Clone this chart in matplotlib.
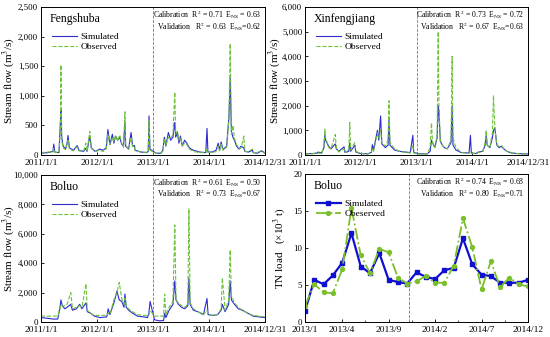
import matplotlib
matplotlib.use('Agg')
import matplotlib.pyplot as plt
import matplotlib.ticker as mticker
import pandas as pd

plt.rcParams['font.family'] = ['Liberation Serif', 'DejaVu Serif']
plt.rcParams['mathtext.fontset'] = 'stix'

# ---- Fengshuba daily flow (key dates, simulated, observed) ----
fsb_dates = ['2011-01-01', '2011-02-15', '2011-03-20', '2011-03-25', '2011-04-01', '2011-04-28',
             '2011-05-07', '2011-05-11', '2011-05-16', '2011-05-25', '2011-06-10', '2011-06-20',
             '2011-06-26', '2011-07-05', '2011-08-01', '2011-08-25', '2011-09-05', '2011-10-05',
             '2011-10-20', '2011-10-28', '2011-11-15', '2011-11-25', '2011-12-20', '2012-01-20',
             '2012-02-10', '2012-03-01', '2012-03-12', '2012-03-25', '2012-04-10', '2012-04-20',
             '2012-05-01', '2012-05-15', '2012-05-28', '2012-06-10', '2012-06-22', '2012-07-01',
             '2012-07-06', '2012-07-25', '2012-08-10', '2012-08-20', '2012-09-01', '2012-09-05',
             '2012-10-15', '2012-11-20', '2012-11-30', '2012-12-05', '2012-12-11', '2013-01-20',
             '2013-02-20', '2013-03-05', '2013-03-15', '2013-03-25', '2013-04-10', '2013-04-25',
             '2013-05-10', '2013-05-22', '2013-05-28', '2013-06-08', '2013-06-18', '2013-06-28',
             '2013-07-10', '2013-07-25', '2013-08-08', '2013-08-25', '2013-09-20', '2013-11-01',
             '2013-12-10', '2013-12-18', '2013-12-24', '2014-01-20', '2014-02-15', '2014-03-01',
             '2014-03-10', '2014-03-20', '2014-04-01', '2014-04-25', '2014-05-10', '2014-05-18',
             '2014-05-26', '2014-06-05', '2014-06-15', '2014-06-28', '2014-07-15', '2014-07-28',
             '2014-08-15', '2014-08-22', '2014-09-15', '2014-10-10', '2014-10-15', '2014-11-10',
             '2014-12-10', '2014-12-31']
fsb_sim = [30, 40, 60, 185, 50, 40, 520, 770, 300, 150, 100, 200,
           330, 120, 80, 160, 80, 60, 110, 60, 330, 120, 60, 100,
           80, 120, 430, 180, 350, 200, 320, 250, 300, 180, 150, 560,
           150, 100, 380, 150, 160, 80, 50, 40, 60, 660, 100, 30,
           30, 80, 300, 150, 380, 250, 300, 550, 300, 380, 200, 320,
           150, 250, 200, 120, 80, 50, 40, 450, 50, 50, 80, 200,
           80, 220, 90, 150, 650, 1300, 400, 300, 250, 150, 100, 150,
           120, 60, 50, 80, 40, 30, 70, 30]
fsb_obs = [40, 50, 50, 110, 45, 40, 400, 1520, 250, 120, 90, 180,
           250, 100, 70, 140, 70, 60, 200, 60, 400, 110, 60, 80,
           60, 100, 350, 170, 300, 220, 330, 240, 340, 200, 130, 730,
           180, 90, 300, 140, 150, 70, 50, 45, 60, 580, 80, 30,
           35, 60, 280, 160, 300, 280, 350, 1060, 350, 400, 250, 300,
           160, 200, 180, 100, 60, 40, 40, 100, 50, 40, 60, 150,
           70, 180, 80, 130, 600, 1880, 350, 500, 280, 180, 100, 120,
           320, 60, 60, 100, 40, 40, 80, 35]

# ---- Xinfengjiang daily flow ----
xfj_dates = ['2011-01-01', '2011-02-20', '2011-03-20', '2011-03-28', '2011-04-20', '2011-05-05',
             '2011-05-11', '2011-05-16', '2011-06-05', '2011-06-20', '2011-07-18', '2011-07-25',
             '2011-08-10', '2011-09-14', '2011-09-20', '2011-10-15', '2011-10-21', '2011-10-27',
             '2011-11-23', '2011-11-30', '2011-12-30', '2012-02-15', '2012-03-10', '2012-03-17',
             '2012-03-25', '2012-04-19', '2012-04-28', '2012-05-10', '2012-05-18', '2012-06-10',
             '2012-06-28', '2012-07-04', '2012-07-10', '2012-08-10', '2012-09-10', '2012-10-20',
             '2012-11-20', '2012-12-07', '2012-12-13', '2013-01-20', '2013-03-10', '2013-03-30',
             '2013-04-08', '2013-04-15', '2013-04-30', '2013-05-15', '2013-05-22', '2013-05-27',
             '2013-06-05', '2013-06-18', '2013-07-01', '2013-07-20', '2013-08-14', '2013-08-21',
             '2013-08-27', '2013-09-15', '2013-10-20', '2013-12-10', '2013-12-19', '2013-12-25',
             '2014-01-25', '2014-02-10', '2014-03-10', '2014-03-25', '2014-04-01', '2014-04-08',
             '2014-04-25', '2014-05-12', '2014-05-19', '2014-05-28', '2014-06-10', '2014-06-25',
             '2014-07-10', '2014-07-25', '2014-08-15', '2014-09-15', '2014-10-20', '2014-11-20',
             '2014-12-31']
xfj_sim = [50, 60, 80, 120, 80, 300, 870, 600, 350, 250, 450, 250,
           150, 330, 100, 150, 500, 150, 400, 120, 60, 50, 100, 420,
           200, 1000, 600, 1580, 450, 300, 400, 1450, 400, 200, 150, 120,
           100, 800, 100, 50, 40, 150, 600, 500, 300, 700, 2000, 1700,
           550, 400, 300, 250, 500, 2000, 400, 200, 100, 80, 800, 80,
           60, 120, 150, 400, 800, 400, 300, 700, 1000, 1100, 400, 300,
           350, 250, 150, 80, 60, 50, 40]
xfj_obs = [40, 50, 60, 80, 60, 350, 1050, 700, 300, 250, 830, 300,
           120, 250, 100, 200, 1320, 200, 500, 150, 60, 40, 80, 250,
           150, 900, 700, 1000, 500, 350, 600, 2200, 500, 250, 150, 100,
           80, 400, 80, 40, 40, 300, 1300, 500, 300, 800, 5000, 2000,
           600, 400, 300, 250, 600, 4000, 700, 300, 100, 70, 150, 70,
           50, 100, 150, 500, 1000, 400, 300, 900, 2400, 1100, 400, 350,
           400, 250, 150, 80, 60, 40, 40]

# ---- Boluo daily flow ----
bl_dates = ['2011-01-01', '2011-02-15', '2011-03-20', '2011-04-20', '2011-05-05', '2011-05-11',
            '2011-05-20', '2011-06-05', '2011-06-20', '2011-07-14', '2011-07-25', '2011-08-20',
            '2011-09-10', '2011-09-25', '2011-10-21', '2011-10-30', '2011-11-20', '2011-12-15',
            '2012-01-20', '2012-03-05', '2012-03-14', '2012-03-25', '2012-04-20', '2012-05-10',
            '2012-05-25', '2012-06-10', '2012-06-25', '2012-07-01', '2012-07-10', '2012-07-25',
            '2012-08-20', '2012-09-20', '2012-10-30', '2012-11-25', '2012-12-04', '2012-12-12',
            '2013-01-10', '2013-02-10', '2013-03-10', '2013-03-17', '2013-03-25', '2013-04-15',
            '2013-05-10', '2013-05-22', '2013-05-30', '2013-06-15', '2013-07-05', '2013-07-25',
            '2013-08-15', '2013-08-22', '2013-08-30', '2013-09-20', '2013-10-20', '2013-11-25',
            '2013-12-18', '2013-12-25', '2014-01-25', '2014-02-25', '2014-03-20', '2014-03-28',
            '2014-04-15', '2014-05-08', '2014-05-18', '2014-05-26', '2014-06-15', '2014-07-10',
            '2014-08-05', '2014-09-10', '2014-10-15', '2014-11-20', '2014-12-31']
bl_sim = [300, 250, 200, 200, 1000, 1500, 1100, 900, 1000, 1200, 800, 900,
          1200, 900, 1300, 700, 600, 400, 300, 350, 900, 500, 1300, 2100,
          1500, 1400, 1000, 1900, 1000, 800, 600, 400, 350, 300, 600, 1400,
          150, 80, 100, 600, 300, 800, 1200, 2800, 1500, 1200, 1000, 900,
          1100, 3000, 1200, 800, 700, 500, 1600, 500, 450, 500, 800, 1200,
          700, 1200, 2800, 1500, 1200, 900, 800, 600, 400, 350, 300]
bl_obs = [400, 400, 400, 400, 900, 1200, 1100, 1100, 1200, 2000, 900, 1000,
          1100, 1000, 2600, 800, 600, 450, 450, 450, 600, 500, 1500, 2000,
          2700, 1600, 1200, 1600, 1100, 900, 700, 500, 450, 450, 500, 800,
          400, 400, 400, 1900, 500, 1000, 1400, 6600, 1500, 1300, 1100, 1000,
          1200, 7700, 1300, 900, 700, 500, 800, 500, 450, 500, 900, 3000,
          800, 1500, 4900, 1800, 1300, 1000, 800, 600, 450, 400, 350]

# ---- Boluo monthly TN load (x10^3 t) ----
tn_month = list(range(25))
tn_sim = [1.5, 5.7, 5.1, 6.3, 8.0, 12.0, 7.5, 6.6, 9.3, 5.7, 5.4, 5.2, 6.7,
          6.1, 5.8, 7.0, 7.3, 11.3, 7.8, 6.4, 6.2, 5.3, 5.3, 5.3, 5.7]
tn_obs = [2.2, 5.1, 4.0, 3.9, 7.1, 15.4, 9.0, 6.6, 9.9, 9.4, 6.0, 5.2, 5.5,
          6.2, 5.3, 5.3, 7.6, 14.0, 10.1, 4.4, 8.2, 4.7, 6.0, 5.1, 4.8]
tn_tick_pos = [0, 4, 9, 14, 19, 24]
tn_tick_labels = ['2013/1', '2013/4', '2013/9', '2014/2', '2014/7', '2014/12']

flow_ticks = ['2011-01-01', '2012-01-01', '2013-01-01', '2014-01-01', '2014-12-31']
flow_tick_labels = ['2011/1/1', '2012/1/1', '2013/1/1', '2014/1/1', '2014/12/31']

stats = {
    'Fengshuba': ('0.71', '0.63', '0.63', '0.62'),
    'Xinfengjiang': ('0.73', '0.72', '0.67', '0.63'),
    'Boluo': ('0.61', '0.50', '0.73', '0.67'),
    'TN': ('0.74', '0.68', '0.80', '0.71'),
}

sim_color = '#2b2bd0'
obs_color = '#6cc23a'

fig = plt.figure(figsize=(5.5, 3.37), dpi=100)
W, H = 550, 337


def add_ax(x0, x1, y0, y1):
    return fig.add_axes([x0 / W, 1 - y1 / H, (x1 - x0) / W, (y1 - y0) / H])


def style(ax):
    ax.tick_params(direction='in', labelsize=6.8, length=2.5, width=0.6, pad=2)
    ax.tick_params(axis='x', pad=3)
    ax.tick_params(axis='y', labelsize=6.4)
    for s in ax.spines.values():
        s.set_linewidth(0.7)


def add_stats(ax, key):
    c_r, c_e, v_r, v_e = stats[key]
    ax.text(0.985, 0.95, 'Calibration  R$^2$ = %s  E$_{\\rm NS}$ = %s' % (c_r, c_e),
            transform=ax.transAxes, ha='right', va='center', fontsize=5.6)
    ax.text(0.985, 0.87, 'Validation   R$^2$ = %s  E$_{\\rm NS}$=%s' % (v_r, v_e),
            transform=ax.transAxes, ha='right', va='center', fontsize=5.6)


def flow_panel(ax, name, dates, sim, obs, ymax, ystep, label_x):
    d = pd.to_datetime(dates)
    ax.plot(d, sim, color=sim_color, lw=0.8, label='Simulated')
    ax.plot(d, obs, color=obs_color, lw=0.8, ls='--', label='Observed')
    ax.axvline(pd.Timestamp('2013-01-01'), color='#777777', ls='--', lw=0.6)
    ax.set_xlim(pd.Timestamp('2011-01-01'), pd.Timestamp('2014-12-31'))
    ax.set_ylim(0, ymax)
    ax.set_xticks(pd.to_datetime(flow_ticks))
    ax.set_xticklabels(flow_tick_labels)
    ax.set_yticks(range(0, ymax + 1, ystep))
    ax.yaxis.set_major_formatter(mticker.FuncFormatter(lambda v, p: '{:,.0f}'.format(v)))
    ax.set_ylabel('Stream flow (m$^3$/s)', fontsize=8)
    ax.yaxis.set_label_coords(label_x, 0.5)
    ax.text(0.04, 0.92, name, transform=ax.transAxes, fontsize=8.5, va='center')
    ax.legend(loc='upper left', bbox_to_anchor=(0.02, 0.87), frameon=False,
              fontsize=6.8, handlelength=2.6, labelspacing=0.1, borderpad=0.2,
              handletextpad=0.4)
    add_stats(ax, name)
    style(ax)


ax1 = add_ax(41, 265, 7, 155)
flow_panel(ax1, 'Fengshuba', fsb_dates, fsb_sim, fsb_obs, 2500, 500, -0.105)

ax2 = add_ax(305, 528, 7, 155)
flow_panel(ax2, 'Xinfengjiang', xfj_dates, xfj_sim, xfj_obs, 6000, 1000, -0.1)

ax3 = add_ax(41, 265, 175, 322)
flow_panel(ax3, 'Boluo', bl_dates, bl_sim, bl_obs, 10000, 2000, -0.105)

# TN load panel
ax4 = add_ax(305, 528, 174, 322)
ax4.plot(tn_month, tn_sim, color='#1010d0', lw=1.6, marker='s', ms=2.5, label='Simulated')
ax4.plot(tn_month, tn_obs, color='#7bbf2a', lw=1.3, ls='-.', marker='o', ms=2.8,
         label='Obeserved')
ax4.axvline(11.2, color='#777777', ls='--', lw=0.6)
ax4.set_xlim(0, 24)
ax4.set_ylim(0, 20)
ax4.set_xticks(tn_tick_pos)
ax4.set_xticklabels(tn_tick_labels)
ax4.set_xticks([6.5, 11.5, 16.5, 21.5], minor=True)
ax4.set_yticks([0, 5, 10, 15, 20])
ax4.set_ylabel('TN load   (×10$^3$ t)', fontsize=8, labelpad=4)
ax4.text(0.04, 0.92, 'Boluo', transform=ax4.transAxes, fontsize=8.5, va='center')
ax4.legend(loc='upper left', bbox_to_anchor=(0.02, 0.87), frameon=False,
           fontsize=6.8, handlelength=2.6, labelspacing=0.1, borderpad=0.2,
           handletextpad=0.4)
add_stats(ax4, 'TN')
style(ax4)
ax4.tick_params(which='minor', direction='in', length=1.8, width=0.5)

fig.savefig('out.png', dpi=100)
